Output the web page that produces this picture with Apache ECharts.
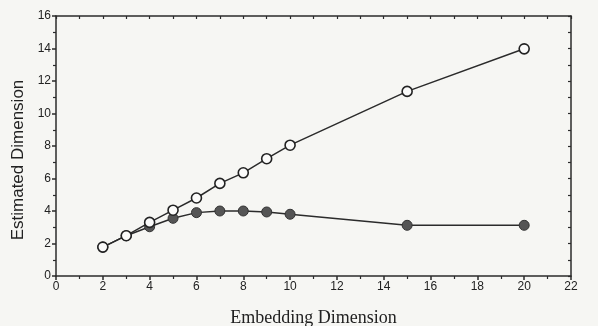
<!DOCTYPE html>
<html>
<head>
<meta charset="utf-8">
<script src="https://cdn.jsdelivr.net/npm/echarts@6/dist/echarts.min.js"></script>
<style>
  html, body { margin: 0; padding: 0; background: #f6f6f3; }
  #chart { width: 598px; height: 326px; }
</style>
</head>
<body>
<div id="chart"></div>
<script>
// embedding dimension on x, estimated dimension on y
var embedDims = [2, 3, 4, 5, 6, 7, 8, 9, 10, 15, 20];
var openValues = [1.78, 2.48, 3.3, 4.05, 4.8, 5.7, 6.35, 7.22, 8.05, 11.36, 13.98];
var filledValues = [1.78, 2.48, 3.03, 3.55, 3.9, 4.0, 4.0, 3.94, 3.8, 3.12, 3.12];
var xTicks = [0, 2, 4, 6, 8, 10, 12, 14, 16, 18, 20, 22];
var yTicks = [0, 2, 4, 6, 8, 10, 12, 14, 16];

function pairs(xs, ys) {
    return xs.map(function(x, i) { return [x, ys[i]]; });
}

var lineColor = '#2b2b2b';
var labelFont = { color: '#222', fontSize: 12, fontFamily: 'Liberation Sans, Arial, sans-serif' };

var myChart = echarts.init(document.getElementById('chart'));
var option = {
    backgroundColor: '#f6f6f3',
    animation: false,
    grid: { left: 56, right: 27, top: 16, bottom: 50, containLabel: false, outerBoundsMode: 'none' },
    xAxis: [
        {
            type: 'value',
            min: xTicks[0],
            max: xTicks[xTicks.length - 1],
            interval: 2,
            name: 'Embedding Dimension',
            nameLocation: 'middle',
            nameGap: 33,
            nameTextStyle: { color: '#222', fontSize: 18, fontFamily: 'Liberation Serif, Times New Roman, serif' },
            axisLine: { onZero: false, lineStyle: { color: lineColor, width: 1.5 } },
            axisTick: { length: 4, lineStyle: { color: lineColor, width: 1.5 } },
            minorTick: { show: true, splitNumber: 2, length: 3, lineStyle: { color: lineColor, width: 1.2 } },
            axisLabel: Object.assign({ margin: 5 }, labelFont),
            splitLine: { show: false }
        },
        {
            type: 'value',
            position: 'top',
            min: 0,
            max: 22,
            interval: 1,
            axisLine: { show: true, onZero: false, lineStyle: { color: lineColor, width: 1.5 } },
            axisTick: { show: true, inside: true, length: 3, lineStyle: { color: lineColor, width: 1.2 } },
            axisLabel: { show: false },
            splitLine: { show: false }
        }
    ],
    yAxis: [
        {
            type: 'value',
            min: yTicks[0],
            max: yTicks[yTicks.length - 1],
            interval: 2,
            name: 'Estimated Dimension',
            nameLocation: 'middle',
            nameGap: 28,
            // the label sits a bit below the middle of the axis in the scan
            nameTextStyle: { color: '#222', fontSize: 17, fontFamily: 'Liberation Sans, Arial, sans-serif', padding: [0, 28, 0, 0] },
            axisLine: { show: true, onZero: false, lineStyle: { color: lineColor, width: 1.5 } },
            axisTick: { length: 4, lineStyle: { color: lineColor, width: 1.5 } },
            minorTick: { show: true, splitNumber: 2, length: 3, lineStyle: { color: lineColor, width: 1.2 } },
            axisLabel: Object.assign({ margin: 5 }, labelFont),
            splitLine: { show: false }
        },
        {
            type: 'value',
            position: 'right',
            min: 0,
            max: 16,
            interval: 1,
            axisLine: { show: true, onZero: false, lineStyle: { color: lineColor, width: 1.5 } },
            axisTick: { show: true, inside: true, length: 3, lineStyle: { color: lineColor, width: 1.2 } },
            axisLabel: { show: false },
            splitLine: { show: false }
        }
    ],
    series: [
        {
            name: 'filled',
            type: 'line',
            data: pairs(embedDims, filledValues),
            symbol: 'circle',
            symbolSize: 10,
            lineStyle: { color: lineColor, width: 1.5 },
            itemStyle: { color: '#555', borderColor: '#333', borderWidth: 1 },
            z: 2
        },
        {
            name: 'open',
            type: 'line',
            data: pairs(embedDims, openValues),
            symbol: 'circle',
            symbolSize: 10,
            showAllSymbol: true,
            lineStyle: { color: lineColor, width: 1.5 },
            itemStyle: { color: '#fbfbfa', borderColor: '#222', borderWidth: 1.6 },
            z: 3
        }
    ]
};
myChart.setOption(option);
</script>
</body>
</html>
